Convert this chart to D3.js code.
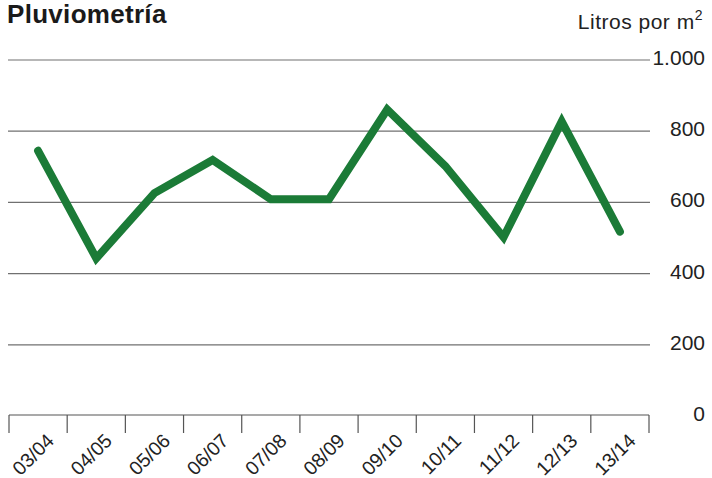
<!DOCTYPE html>
<html lang="es">
<head>
    <meta charset="UTF-8">
    <title>Pluviometría</title>
    <style>
        body { margin: 0; background: #fff; }
        text { font-family: "Liberation Sans", Arial, sans-serif; fill: #222; }
        .title { font-size: 26px; font-weight: bold; fill: #1a1a1a; letter-spacing: 0.3px; }
        .unit { font-size: 21px; letter-spacing: 0.5px; }
        .ylab { font-size: 21px; text-anchor: end; }
        .xlab { font-size: 19.5px; text-anchor: end; }
        .grid { stroke: #707070; stroke-width: 1.2px; }
        .axis { stroke: #555; stroke-width: 1.2px; }
    </style>
</head>
<body>
    <svg width="712" height="478"></svg>

    <script src="https://d3js.org/d3.v7.min.js"></script>
    <script>
        // Data (litros por m2 por temporada)
        const seasons = ['03/04', '04/05', '05/06', '06/07', '07/08', '08/09', '09/10', '10/11', '11/12', '12/13', '13/14'];
        const rainfall = [745, 443, 626, 719, 609, 609, 861, 702, 502, 827, 518];
        const yTicks = [0, 200, 400, 600, 800, 1000];

        const svg = d3.select("svg");

        const x = d3.scaleBand()
            .domain(seasons)
            .range([9, 649]);

        const y = d3.scaleLinear()
            .domain([0, 1000])
            .range([416, 60]);

        const fmt = d => d >= 1000 ? d3.format(",")(d).replace(",", ".") : String(d);

        // Title
        svg.append("text")
            .attr("class", "title")
            .attr("x", 7)
            .attr("y", 23)
            .text("Pluviometría");

        // Unit label
        const unit = svg.append("text")
            .attr("class", "unit")
            .attr("x", 703)
            .attr("y", 29)
            .attr("text-anchor", "end")
            .text("Litros por m");
        unit.append("tspan")
            .attr("dy", -9)
            .style("font-size", "14px")
            .text("2");

        // Gridlines (not at 0)
        svg.selectAll(".grid")
            .data(yTicks.filter(d => d > 0))
            .enter().append("line")
            .attr("class", "grid")
            .attr("x1", 8)
            .attr("x2", 650)
            .attr("y1", d => y(d))
            .attr("y2", d => y(d));

        // Y labels
        svg.selectAll(".ylab")
            .data(yTicks)
            .enter().append("text")
            .attr("class", "ylab")
            .attr("x", 705)
            .attr("y", d => y(d) + 5)
            .text(fmt);

        // X axis
        const xa = svg.append("g")
            .attr("transform", `translate(0,${y(0) - 1})`);
        xa.append("line")
            .attr("class", "axis")
            .attr("x1", x.range()[0])
            .attr("x2", x.range()[1]);

        const edges = seasons.map(s => x(s)).concat([x.range()[1]]);
        xa.selectAll(".tick")
            .data(edges)
            .enter().append("line")
            .attr("class", "axis")
            .attr("x1", d => d)
            .attr("x2", d => d)
            .attr("y1", 0)
            .attr("y2", 18);

        xa.selectAll(".xlab")
            .data(seasons)
            .enter().append("text")
            .attr("class", "xlab")
            .attr("transform", d => `translate(${x(d) + x.bandwidth() / 2 + 17},${27}) rotate(-45)`)
            .text(d => d);

        // Line
        const line = d3.line()
            .x((d, i) => x(seasons[i]) + x.bandwidth() / 2)
            .y(d => y(d));

        svg.append("path")
            .datum(rainfall)
            .attr("d", line)
            .attr("fill", "none")
            .attr("stroke", "#1b7b37")
            .attr("stroke-width", 8)
            .attr("stroke-linecap", "round")
            .attr("stroke-linejoin", "miter");
    </script>
</body>
</html>
